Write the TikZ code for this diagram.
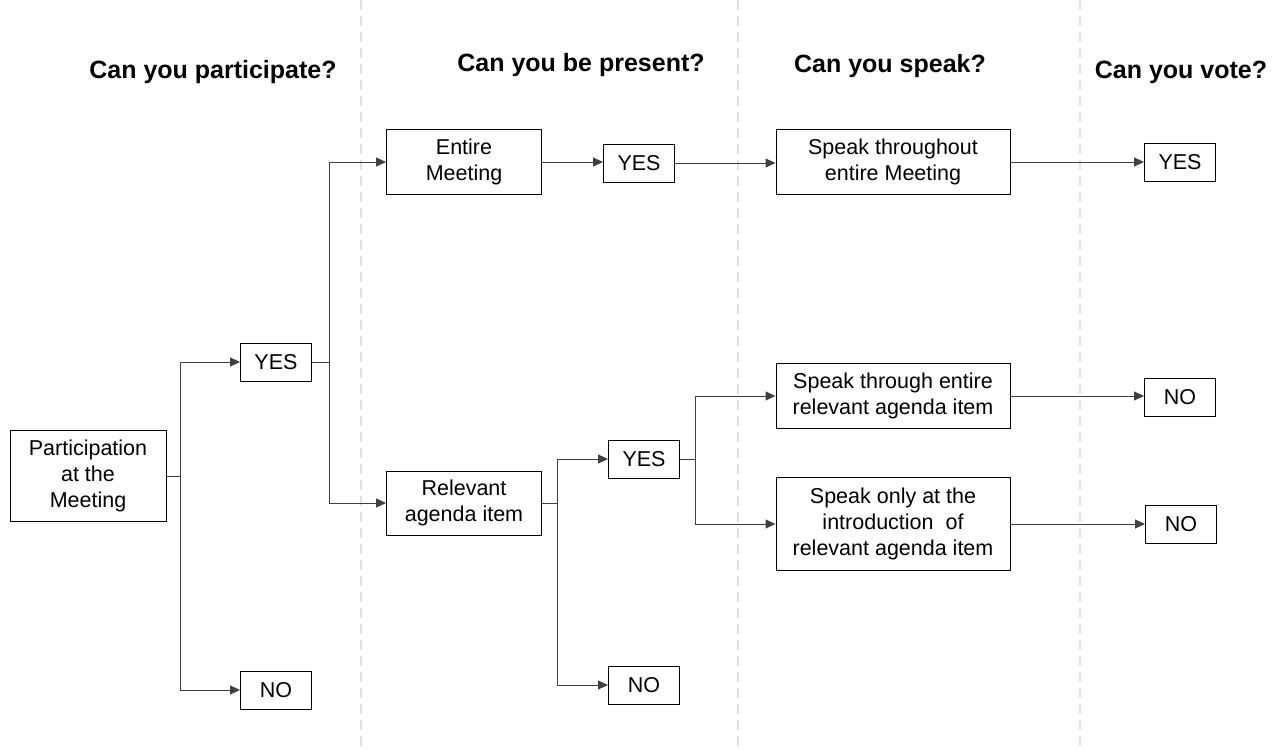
\documentclass[tikz,border=0pt]{standalone}
\usepackage{fontspec}
\setmainfont{Liberation Sans}
\usetikzlibrary{arrows.meta}
\tikzset{ b/.style = { rectangle
                       , draw = black
                       , line width   = 0.5pt
                       , align        = center
                       , inner sep    = 1pt
                       , font         = \fontsize{10.75}{12.9}\selectfont
                       },
          ans/.style = { b
                       , minimum width  = 35.5pt
                       , minimum height = 19pt
                       },
          spk/.style = { b
                       , minimum width  = 117pt
                       , minimum height = 32.5pt
                       },
          q/.style   = { anchor = base
                       , inner sep = 0pt
                       , font = \fontsize{12.5}{15}\selectfont\bfseries
                       },
          c/.style   = { draw = black!75
                       , line width = 0.5pt
                       },
          a/.style   = { c
                       , -{Triangle[length=5pt,width=4.5pt]}
                       },
          sep/.style = { draw = black!12
                       , line width = 1pt
                       , dash pattern = on 5pt off 3pt
                       }
        }
\begin{document}
\begin{tikzpicture}[x=0.5pt,y=-0.5pt]
    \useasboundingbox (0,0) rectangle (1272,749);
    % column separators
    \draw[sep] (361,0) -- (361,749);
    \draw[sep] (738,0) -- (738,749);
    \draw[sep] (1080,0) -- (1080,749);
    % questions
    \node[q] (q1) at (213,79) {Can you participate?};
    \node[q] (q2) at (581,72) {Can you be present?};
    \node[q] (q3) at (890,73) {Can you speak?};
    \node[q] (q4) at (1181,79) {Can you vote?};
    % boxes
    \node[b, minimum width=78pt, minimum height=45.5pt] (part) at (88,476) {Participation\\at the\\Meeting};
    \node[ans] (yes1) at (276,362) {YES};
    \node[ans] (no1)  at (276,690) {NO};
    \node[b, minimum width=77.5pt, minimum height=32.5pt] (ent) at (464,162) {Entire\\Meeting};
    \node[b, minimum width=77.5pt, minimum height=32pt] (rel) at (464,503) {Relevant\\agenda item};
    \node[ans] (yes2) at (639,163) {YES};
    \node[ans] (yes4) at (644,459) {YES};
    \node[ans] (no4)  at (644,685) {NO};
    \node[spk] (sp1) at (893,162) {Speak throughout\\entire Meeting};
    \node[spk] (sp2) at (893,396) {Speak through entire\\relevant agenda item};
    \node[spk, minimum height=46.5pt] (sp3) at (893,524) {Speak only at the\\introduction\ \ of\\relevant agenda item};
    \node[ans] (yes3) at (1180,162) {YES};
    \node[ans] (no2)  at (1180,397) {NO};
    \node[ans] (no3)  at (1181,524) {NO};
    % branch points
    \coordinate (j1) at (180,476);
    \coordinate (j2) at (329,362);
    \coordinate (j3) at (557,503);
    \coordinate (j4) at (695,459);
    % connectors
    \draw[c] (part.east) -- (j1);
    \draw[a] (j1) |- (yes1.west);
    \draw[a] (j1) |- (no1.west);
    \draw[c] (yes1.east) -- (j2);
    \draw[a] (j2) |- (ent.west);
    \draw[a] (j2) |- (rel.west);
    \draw[a] (ent.east) -- (ent.east -| yes2.west);
    \draw[a] (yes2.east) -- (yes2.east -| sp1.west);
    \draw[a] (sp1.east) -- (sp1.east -| yes3.west);
    \draw[c] (rel.east) -- (j3);
    \draw[a] (j3) |- (yes4.west);
    \draw[a] (j3) |- (no4.west);
    \draw[c] (yes4.east) -- (j4);
    \draw[a] (j4) |- (sp2.west);
    \draw[a] (j4) |- (sp3.west);
    \draw[a] (sp2.east) -- (sp2.east -| no2.west);
    \draw[a] (sp3.east) -- (sp3.east -| no3.west);
\end{tikzpicture}
\end{document}
